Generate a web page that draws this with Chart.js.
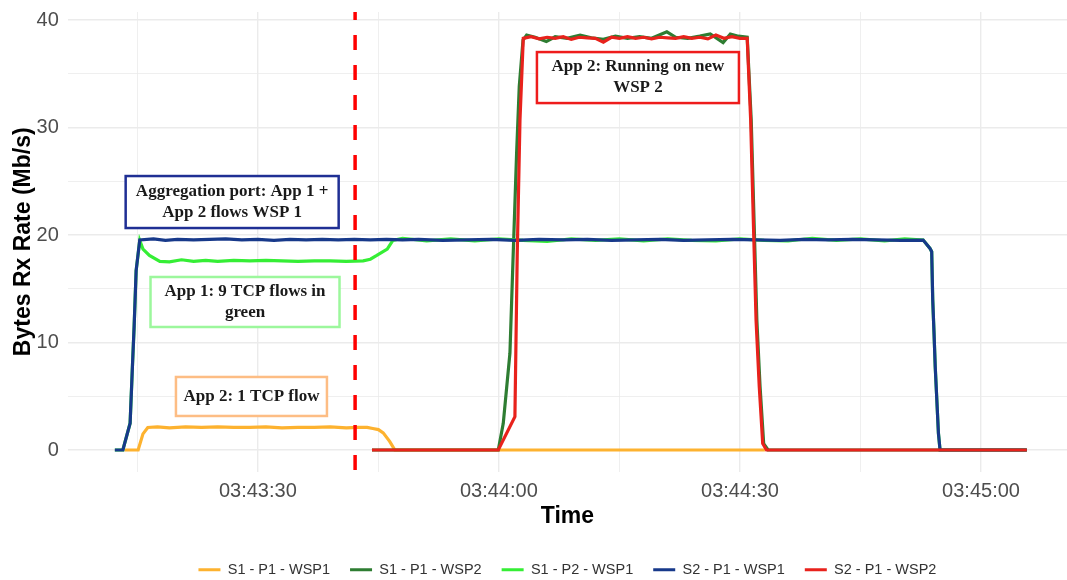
<!doctype html>
<html lang="en">
<head>
  <meta charset="utf-8">
  <title>Bytes Rx Rate</title>
  <script src="https://cdn.jsdelivr.net/npm/chart.js@4"></script>
  <style>
    html, body { margin: 0; padding: 0; background: #fff; }
    #wrap { width: 1067px; height: 580px; }
  </style>
</head>
<body>
  <div id="wrap"><canvas id="rxChart"></canvas></div>

  <script>
    // time is in seconds after 03:43:00
    const xTickValues  = [30, 60, 90, 120];
    const xTickLabels  = ['03:43:30', '03:44:00', '03:44:30', '03:45:00'];
    const xMinorValues = [15, 45, 75, 105];
    const yTickValues  = [0, 10, 20, 30, 40];
    const yMinorValues = [5, 15, 25, 35];

    const seriesNames  = ['S1 - P1 - WSP1', 'S1 - P1 - WSP2', 'S1 - P2 - WSP1', 'S2 - P1 - WSP1', 'S2 - P1 - WSP2'];
    const seriesColors = ['#fdb22f', '#2e7d32', '#35ee35', '#17398a', '#e8221c'];

    // [time, Mb/s]
    const s1p1wsp1 = [
      [13.4, 0], [15.1, 0], [15.7, 1.5], [16.3, 2.1], [17.5, 2.15], [19, 2.05], [21, 2.15], [23, 2.1],
      [25, 2.15], [27, 2.1], [29, 2.1], [31, 2.15], [33, 2.05], [35, 2.1], [37, 2.1], [39, 2.15],
      [41, 2.05], [42.5, 2.1], [43.6, 2.1], [44.3, 2.0], [45.0, 1.9], [45.6, 1.6], [46.4, 0.8],
      [47.05, 0], [93.1, 0]
    ];
    const s1p1wsp2 = [
      [44.2, 0], [59.92, 0], [60.54, 2.48], [61.37, 9.0], [61.78, 18.3], [62.2, 27.6], [62.53, 33.8],
      [63.0, 38.14], [63.45, 38.6], [64.5, 38.4], [65.9, 38.0], [67, 38.45], [68.5, 38.3], [70.1, 38.6],
      [71.5, 38.35], [73, 38.2], [74.5, 38.5], [76, 38.3], [77.5, 38.45], [79, 38.3], [80.9, 38.9],
      [82, 38.4], [83.5, 38.3], [85, 38.5], [86.3, 38.7], [87.9, 37.9], [88.8, 38.7], [89.8, 38.5],
      [90.9, 38.4], [91.4, 30.7], [91.75, 21.4], [92.1, 12.1], [92.5, 5.9], [92.95, 0.6], [93.5, 0],
      [125.7, 0]
    ];
    const s1p2wsp1 = [
      [12.2, 0], [13.2, 0], [14.1, 2.5], [14.4, 8], [14.6, 11.5], [14.85, 16.7], [15.3, 19.5],
      [15.7, 18.7], [16.5, 18.1], [17.8, 17.55], [19, 17.5], [20.5, 17.7], [22, 17.55], [23.5, 17.65],
      [25, 17.55], [27, 17.65], [29, 17.6], [31, 17.65], [33, 17.6], [35, 17.55], [37, 17.6],
      [39, 17.6], [41, 17.55], [43.1, 17.6], [44.0, 17.75], [44.8, 18.1], [46.1, 18.7], [46.8, 19.5],
      [48, 19.7], [51, 19.45], [54, 19.65], [57, 19.45], [60, 19.65], [63, 19.5], [66, 19.4],
      [69, 19.65], [72, 19.5], [75, 19.65], [78, 19.45], [81, 19.65], [84, 19.5], [87, 19.45],
      [90, 19.65], [93, 19.5], [96, 19.45], [99, 19.7], [102, 19.5], [105, 19.65], [108, 19.45],
      [110.5, 19.65], [112.8, 19.53], [113.65, 18.76], [113.86, 18.45], [113.99, 13.95],
      [114.15, 10.9], [114.3, 7.75], [114.5, 4.65], [114.7, 1.55], [114.9, 0], [125.7, 0]
    ];
    const s2p1wsp1 = [
      [12.2, 0], [13.2, 0], [14.1, 2.5], [14.4, 8], [14.6, 11.5], [14.85, 16.7], [15.3, 19.55],
      [17, 19.65], [18.5, 19.5], [20, 19.6], [22, 19.55], [24, 19.6], [26, 19.65], [28, 19.55],
      [30, 19.6], [32, 19.5], [34, 19.6], [36, 19.55], [38, 19.6], [40, 19.55], [42, 19.6],
      [44, 19.55], [46, 19.6], [48, 19.55], [50, 19.6], [53, 19.5], [56, 19.55], [59, 19.6],
      [62, 19.5], [65, 19.6], [68, 19.55], [71, 19.6], [74, 19.5], [77, 19.55], [80, 19.6],
      [83, 19.5], [86, 19.55], [89, 19.6], [92, 19.55], [95, 19.5], [98, 19.6], [101, 19.55],
      [104, 19.6], [107, 19.55], [110, 19.5], [112.8, 19.53], [113.65, 18.76], [113.86, 18.45],
      [113.99, 13.95], [114.15, 10.9], [114.3, 7.75], [114.5, 4.65], [114.7, 1.55], [114.9, 0],
      [125.7, 0]
    ];
    const s2p1wsp2 = [
      [44.2, 0], [59.92, 0], [61.99, 3.1], [62.28, 18.3], [62.62, 30.7], [63.03, 38.3], [64, 38.45],
      [65, 38.25], [66, 38.4], [67, 38.3], [68, 38.45], [69, 38.2], [70, 38.4], [71, 38.35],
      [72, 38.3], [73, 37.95], [74, 38.4], [75, 38.3], [76, 38.45], [77, 38.3], [78, 38.4],
      [79, 38.25], [80, 38.4], [81, 38.35], [82, 38.3], [83, 38.45], [84, 38.3], [85, 38.4],
      [86, 38.25], [87, 38.6], [88, 38.3], [89, 38.45], [90, 38.3], [90.9, 38.3], [91.33, 30.7],
      [91.66, 21.4], [92.0, 12.1], [92.4, 5.9], [92.83, 0.6], [93.3, 0], [125.7, 0]
    ];
    const seriesPoints = [s1p1wsp1, s1p1wsp2, s1p2wsp1, s2p1wsp1, s2p1wsp2];

    // moment App 2 was moved (red dashed line)
    const switchTime = 42.1;

    // text boxes, placed in data coordinates
    const notes = [
      { lines: ['Aggregation port: App 1 +', 'App 2 flows WSP 1'], t: 26.8, v: 23.07, w: 213, h: 52, color: '#1f2f94' },
      { lines: ['App 1: 9 TCP flows in', 'green'], t: 28.4, v: 13.77, w: 189, h: 50, color: '#9cf79c' },
      { lines: ['App 2: 1 TCP flow'], t: 29.2, v: 4.98, w: 151, h: 39, color: '#fdbd84' },
      { lines: ['App 2: Running on new', 'WSP 2'], t: 77.3, v: 34.65, w: 202, h: 51, color: '#ee1c1c' }
    ];

    const xMin = 6.35, xMax = 130.7;
    const yMin = -2.0, yMax = 40.75;

    const notesPlugin = {
      id: 'notes',
      afterDatasetsDraw(chart) {
        const { ctx, chartArea, scales } = chart;
        ctx.save();

        const vx = scales.x.getPixelForValue(switchTime);
        ctx.strokeStyle = '#ff0000';
        ctx.lineWidth = 3.5;
        ctx.setLineDash([15, 15]);
        ctx.lineDashOffset = 7;
        ctx.beginPath();
        ctx.moveTo(vx, chartArea.top);
        ctx.lineTo(vx, chartArea.bottom + 6);
        ctx.stroke();
        ctx.setLineDash([]);

        ctx.font = 'bold 17px "Liberation Serif", "Times New Roman", serif';
        ctx.textAlign = 'center';
        ctx.textBaseline = 'middle';
        notes.forEach(n => {
          const cx = scales.x.getPixelForValue(n.t);
          const cy = scales.y.getPixelForValue(n.v);
          ctx.fillStyle = '#fff';
          ctx.fillRect(cx - n.w / 2, cy - n.h / 2, n.w, n.h);
          ctx.strokeStyle = n.color;
          ctx.lineWidth = 2.5;
          ctx.strokeRect(cx - n.w / 2, cy - n.h / 2, n.w, n.h);
          ctx.fillStyle = '#1a1a1a';
          const lh = 21;
          const y0 = cy - (n.lines.length - 1) * lh / 2;
          n.lines.forEach((s, i) => ctx.fillText(s, cx, y0 + i * lh));
        });
        ctx.restore();
      }
    };

    const gridColor = '#ebebeb';

    Chart.defaults.font.family = '"Liberation Sans", Arial, sans-serif';

    new Chart(document.getElementById('rxChart'), {
      type: 'line',
      data: {
        datasets: seriesNames.map((name, i) => ({
          label: name,
          data: seriesPoints[i].map(p => ({ x: p[0], y: p[1] })),
          borderColor: seriesColors[i],
          backgroundColor: seriesColors[i],
          borderWidth: 3.2,
          pointRadius: 0,
          tension: 0,
          order: seriesNames.length - i   // last series drawn on top
        }))
      },
      options: {
        animation: false,
        responsive: true,
        maintainAspectRatio: false,
        layout: { padding: { top: 12, left: 0, right: 0, bottom: -7 } },
        plugins: {
          tooltip: { enabled: false },
          legend: {
            position: 'bottom',
            fullSize: false,
            labels: {
              boxWidth: 22,
              boxHeight: 3,
              padding: 20,
              color: '#333',
              font: { size: 14.5 },
              sort: (a, b) => a.datasetIndex - b.datasetIndex,
              generateLabels: chart => Chart.defaults.plugins.legend.labels.generateLabels(chart)
                .map(l => ({ ...l, lineWidth: 0, strokeStyle: 'rgba(0,0,0,0)' }))
            }
          }
        },
        scales: {
          x: {
            type: 'linear',
            min: xMin,
            max: xMax,
            afterBuildTicks: s => {
              s.ticks = xTickValues.concat(xMinorValues).sort((a, b) => a - b).map(v => ({ value: v }));
            },
            ticks: {
              autoSkip: false,
              maxRotation: 0,
              padding: 7.5,
              color: '#4d4d4d',
              font: { size: 20 },
              callback: v => {
                const i = xTickValues.indexOf(v);
                return i >= 0 ? xTickLabels[i] : '';
              }
            },
            grid: {
              color: gridColor,
              lineWidth: c => xTickValues.includes(c.tick && c.tick.value) ? 1.4 : 0.8,
              drawTicks: false
            },
            border: { display: false },
            title: {
              display: true,
              text: 'Time',
              color: '#000',
              font: { size: 23, weight: 'bold' },
              padding: { top: -7.8, bottom: 12.2 }
            }
          },
          y: {
            type: 'linear',
            min: yMin,
            max: yMax,
            afterBuildTicks: s => {
              s.ticks = yTickValues.concat(yMinorValues).sort((a, b) => a - b).map(v => ({ value: v }));
            },
            // the top label sits below the plot edge, so it needs no extra room
            afterFit: s => { s.paddingTop = 0; },
            ticks: {
              autoSkip: false,
              padding: 9,
              color: '#4d4d4d',
              font: { size: 20 },
              callback: v => yTickValues.includes(v) ? String(v) : ''
            },
            grid: {
              color: gridColor,
              lineWidth: c => yTickValues.includes(c.tick && c.tick.value) ? 1.4 : 0.8,
              drawTicks: false
            },
            border: { display: false },
            title: {
              display: true,
              text: 'Bytes Rx Rate (Mb/s)',
              color: '#000',
              font: { size: 23, weight: 'bold' },
              padding: { top: 10, bottom: -10 }
            }
          }
        }
      },
      plugins: [notesPlugin]
    });
  </script>
</body>
</html>
